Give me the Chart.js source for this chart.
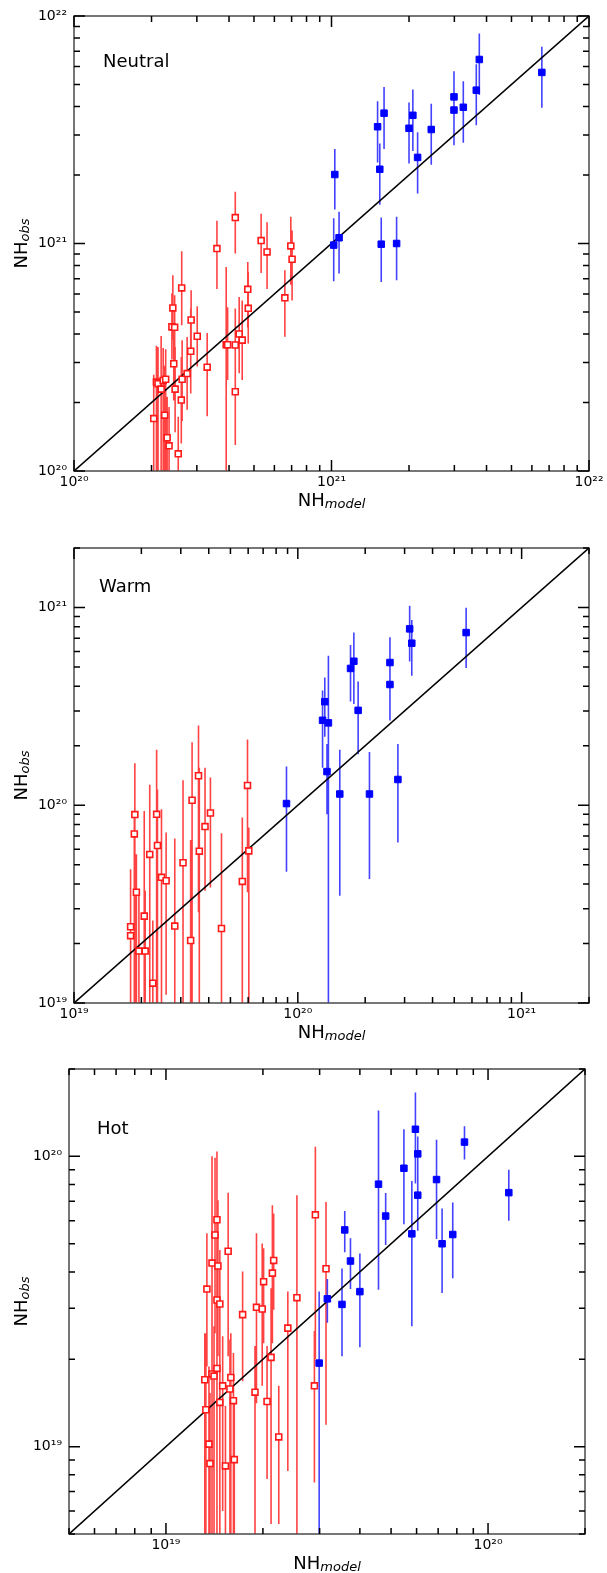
<!DOCTYPE html>
<html><head><meta charset="utf-8">
<script src="https://cdn.jsdelivr.net/npm/chart.js@4.4.0/dist/chart.umd.min.js"></script>
<style>
html,body{margin:0;padding:0;background:#fff;}
body{width:607px;height:1573px;position:relative;overflow:hidden;}
canvas{position:absolute;left:0;}
</style></head><body>
<canvas id="c1" width="607" height="520" style="top:0px"></canvas>
<canvas id="c2" width="607" height="520" style="top:520px"></canvas>
<canvas id="c3" width="607" height="533" style="top:1040px"></canvas>
<script>
// ---------------- Panel 1: Neutral ----------------
const neutralRange = [1e20, 1e22];
const neutralTicks = [1e20, 1e21, 1e22];
const neutralBlueX  = [1.03e21,1.02e21,1.07e21,1.51e21,1.54e21,1.60e21,1.56e21,1.79e21,2.00e21,2.07e21,2.16e21,2.44e21,2.99e21,2.99e21,3.25e21,3.65e21,3.75e21,6.56e21];
const neutralBlueY  = [2.01e21,9.84e20,1.06e21,3.26e21,2.12e21,3.74e21,9.93e20,1.00e21,3.21e21,3.66e21,2.39e21,3.17e21,4.41e21,3.86e21,3.97e21,4.72e21,6.44e21,5.65e21];
const neutralBlueLo = [1.41e21,6.83e20,7.38e20,2.27e21,1.48e21,2.60e21,6.78e20,6.90e20,2.25e21,2.55e21,1.66e21,2.22e21,3.37e21,2.70e21,2.77e21,3.31e21,4.50e21,3.95e21];
const neutralBlueHi = [2.60e21,1.29e21,1.38e21,4.22e21,2.75e21,4.87e21,1.30e21,1.31e21,4.17e21,4.75e21,3.08e21,4.11e21,5.72e21,5.05e21,5.16e21,6.14e21,8.38e21,7.32e21];
const neutralRedX  = [2.04e20,2.09e20,2.12e20,2.18e20,2.22e20,2.27e20,2.25e20,2.30e20,2.34e20,2.42e20,2.40e20,2.46e20,2.44e20,2.47e20,2.54e20,2.62e20,2.63e20,2.61e20,2.75e20,2.85e20,2.84e20,3.01e20,3.29e20,3.59e20,3.90e20,3.95e20,4.23e20,4.23e20,4.23e20,4.38e20,4.50e20,4.73e20,4.75e20,5.33e20,5.62e20,6.59e20,6.95e20,7.03e20];
const neutralRedY  = [1.70e20,2.46e20,2.42e20,2.29e20,2.50e20,2.53e20,1.76e20,1.40e20,1.29e20,5.21e20,4.30e20,4.28e20,2.96e20,2.29e20,1.19e20,6.38e20,2.53e20,2.05e20,2.68e20,4.61e20,3.36e20,3.91e20,2.86e20,9.50e20,3.59e20,3.59e20,1.30e21,3.58e20,2.23e20,4.00e20,3.76e20,6.29e20,5.19e20,1.03e21,9.18e20,5.77e20,9.76e20,8.53e20];
const neutralRedLo = [9e19,9e19,9e19,9e19,9e19,9e19,9e19,9e19,9e19,3.76e20,3.09e20,3.09e20,2.04e20,1.48e20,9e19,4.37e20,1.66e20,1.32e20,1.86e20,3.39e20,2.19e20,2.88e20,1.74e20,6.31e20,9e19,2.51e20,9.03e20,2.51e20,1.30e20,2.69e20,2.51e20,4.27e20,3.63e20,7.41e20,6.31e20,3.89e20,6.59e20,5.62e20];
const neutralRedHi = [2.65e20,3.55e20,3.51e20,3.92e20,3.47e20,3.43e20,2.90e20,2.12e20,1.91e20,7.25e20,6.03e20,5.92e20,4.30e20,3.51e20,1.73e20,9.25e20,3.76e20,3.17e20,3.88e20,6.23e20,5.18e20,5.30e20,4.04e20,1.26e21,7.89e20,5.25e20,1.69e21,5.18e20,3.23e20,5.82e20,5.62e20,8.30e20,7.50e20,1.35e21,1.24e21,7.62e20,1.31e21,1.14e21];

// ---------------- Panel 2: Warm ----------------
const warmRange = [1e19, 2e21];
const warmTicks = [1e19, 1e20, 1e21];
const warmBlueX  = [8.90e19,1.29e20,1.32e20,1.37e20,1.35e20,1.54e20,1.72e20,1.78e20,1.86e20,2.09e20,2.58e20,2.58e20,2.80e20,3.16e20,3.23e20,5.65e20];
const warmBlueY  = [1.02e20,2.69e20,3.34e20,2.61e20,1.48e20,1.14e20,4.92e20,5.35e20,3.02e20,1.14e20,5.27e20,4.08e20,1.35e20,7.80e20,6.60e20,7.47e20];
const warmBlueLo = [4.61e19,1.55e20,2.22e20,5e18,9.0e19,3.49e19,3.35e20,3.25e20,1.81e20,4.24e19,3.80e20,2.68e20,6.48e19,5.33e20,4.52e20,4.94e20];
const warmBlueHi = [1.57e20,3.81e20,4.43e20,5.70e20,2.04e20,1.91e20,6.47e20,7.47e20,4.23e20,1.86e20,7.08e20,5.30e20,2.04e20,1.02e21,8.65e20,9.98e20];
const warmRedX  = [1.79e19,1.79e19,1.87e19,1.86e19,1.90e19,1.95e19,2.06e19,2.08e19,2.18e19,2.25e19,2.34e19,2.36e19,2.46e19,2.58e19,2.82e19,3.07e19,3.32e19,3.37e19,3.60e19,3.63e19,3.85e19,4.07e19,4.56e19,5.65e19,5.96e19,6.04e19];
const warmRedY  = [2.43e19,2.19e19,8.97e19,7.16e19,3.63e19,1.83e19,2.75e19,1.83e19,5.64e19,1.26e19,9.00e19,6.26e19,4.32e19,4.15e19,2.45e19,5.12e19,2.07e19,1.06e20,1.41e20,5.86e19,7.80e19,9.14e19,2.38e19,4.12e19,1.26e20,5.88e19];
const warmRedLo = [8e18,8e18,8e18,8e18,8e18,8e18,8e18,8e18,8e18,8e18,8e18,8e18,8e18,1.1e19,8e18,8e18,8e18,8e18,2.88e19,8e18,3.70e19,3.84e19,8e18,8e18,3.63e19,8e18];
const warmRedHi = [4.75e19,3.84e19,1.63e20,8.83e19,5.66e19,3.70e19,9.35e19,3.70e19,1.27e20,2.61e19,1.91e20,1.20e20,9.54e19,7.28e19,6.79e19,1.34e20,6.68e19,2.08e20,2.53e20,1.55e20,1.55e20,1.38e20,7.22e19,8.66e19,2.15e20,7.71e19];

// ---------------- Panel 3: Hot ----------------
const hotRange = [5e18, 2e20];
const hotTicks = [1e19, 1e20];
const hotBlueX  = [2.99e19,3.17e19,3.52e19,3.59e19,3.74e19,4.00e19,4.57e19,4.81e19,5.48e19,5.80e19,5.95e19,6.05e19,6.05e19,6.92e19,7.20e19,7.77e19,8.45e19,1.16e20];
const hotBlueY  = [1.94e19,3.23e19,3.09e19,5.58e19,4.36e19,3.42e19,8.02e19,6.23e19,9.10e19,5.41e19,1.24e20,1.02e20,7.35e19,8.32e19,5.00e19,5.38e19,1.12e20,7.50e19];
const hotBlueLo = [4e18,2.67e19,2.05e19,4.67e19,3.49e19,2.20e19,3.47e19,4.95e19,5.84e19,2.60e19,8.06e19,7.08e19,5.54e19,5.19e19,3.38e19,3.80e19,9.75e19,6.00e19];
const hotBlueHi = [3.42e19,3.78e19,4.11e19,6.48e19,5.22e19,4.63e19,1.44e20,7.48e19,1.24e20,8.23e19,1.66e20,1.17e20,9.07e19,1.14e20,6.61e19,6.93e19,1.27e20,9.00e19];
const hotRedX  = [1.32e19,1.33e19,1.36e19,1.37e19,1.34e19,1.39e19,1.39e19,1.41e19,1.42e19,1.44e19,1.45e19,1.44e19,1.44e19,1.47e19,1.47e19,1.50e19,1.53e19,1.56e19,1.58e19,1.59e19,1.62e19,1.63e19,1.73e19,1.89e19,1.91e19,1.99e19,2.01e19,2.06e19,2.12e19,2.14e19,2.16e19,2.24e19,2.39e19,2.55e19,2.89e19,2.91e19,3.14e19];
const hotRedY  = [1.70e19,1.34e19,1.02e19,8.74e18,3.49e19,4.29e19,1.78e19,1.75e19,5.36e19,6.05e19,4.19e19,3.20e19,1.86e19,3.10e19,1.42e19,1.62e19,8.58e18,4.71e19,1.58e19,1.73e19,1.44e19,9.02e18,2.85e19,1.54e19,3.02e19,2.98e19,3.70e19,1.43e19,2.03e19,3.96e19,4.38e19,1.08e19,2.56e19,3.26e19,1.62e19,6.29e19,4.10e19];
const hotRedLo = [4e18,4e18,4e18,4e18,1.89e19,2.16e19,4e18,4e18,2.46e19,2.60e19,2.05e19,1.89e19,4e18,1.62e19,4e18,6e18,4e18,2.05e19,4e18,4e18,4e18,4e18,1.68e19,4e18,1.41e19,1.62e19,2.27e19,7.73e18,5.41e18,2.27e19,2.96e19,5.41e18,8.24e18,4.9e18,7.52e18,2.00e19,1.19e19];
const hotRedHi = [2.46e19,2.46e19,1.89e19,1.53e19,5.43e19,1.00e20,2.67e19,2.60e19,9.90e19,1.04e20,7.06e19,5.01e19,3.12e19,4.76e19,2.00e19,2.40e19,1.38e19,7.50e19,2.34e19,2.46e19,2.10e19,1.45e19,4.01e19,2.22e19,5.43e19,5.01e19,4.82e19,2.22e19,3.51e19,6.79e19,6.35e19,1.62e19,3.42e19,7.35e19,2.50e19,1.08e20,6.97e19];

// ---------------- helpers ----------------
const FONT = "'DejaVu Sans', sans-serif";
const SUP = {'0':'\u2070','1':'\u00B9','2':'\u00B2','3':'\u00B3','4':'\u2074','5':'\u2075','6':'\u2076','7':'\u2077','8':'\u2078','9':'\u2079','-':'\u207B'};
function powLabel(v){
  const e = Math.round(Math.log10(v));
  return '10' + String(e).split('').map(c => SUP[c]).join('');
}
function pts(xs, ys){ return xs.map((x,i)=>({x:x, y:ys[i]})); }
function bars(xs, lo, hi){
  const d = [];
  xs.forEach((x,i)=>{ d.push({x:x,y:lo[i]},{x:x,y:hi[i]},{x:x,y:null}); });
  return d;
}
function minorList(min, max){
  const out = [];
  let e = Math.floor(Math.log10(min)) - 1;
  const eMax = Math.ceil(Math.log10(max)) + 1;
  for (; e <= eMax; e++){
    for (let m = 1; m <= 9; m++){
      const v = m * Math.pow(10, e);
      if (v >= min*0.999 && v <= max*1.001) out.push({v:v, major: m===1});
    }
  }
  return out;
}

const framePlugin = {
  id: 'frame',
  afterDraw(chart){
    const o = chart.options.plugins.frame;
    const {ctx, chartArea:a} = chart;
    const xs = chart.scales.x, ys = chart.scales.y;
    ctx.save();
    // frame
    ctx.strokeStyle = '#4a4a4a'; ctx.lineWidth = 1.5;
    ctx.strokeRect(a.left, a.top, a.right - a.left, a.bottom - a.top);
    // inward tick marks on all four sides
    ctx.strokeStyle = '#000'; ctx.lineWidth = 1.5;
    ctx.beginPath();
    minorList(xs.min, xs.max).forEach(t => {
      const p = xs.getPixelForValue(t.v); const L = t.major ? 11 : 6;
      ctx.moveTo(p, a.bottom); ctx.lineTo(p, a.bottom - L);
      ctx.moveTo(p, a.top); ctx.lineTo(p, a.top + L);
    });
    minorList(ys.min, ys.max).forEach(t => {
      const p = ys.getPixelForValue(t.v); const L = t.major ? 11 : 6;
      ctx.moveTo(a.left, p); ctx.lineTo(a.left + L, p);
      ctx.moveTo(a.right, p); ctx.lineTo(a.right - L, p);
    });
    ctx.stroke();
    // panel label
    ctx.fillStyle = '#000';
    ctx.font = '18px ' + FONT;
    ctx.textAlign = 'left'; ctx.textBaseline = 'alphabetic';
    ctx.fillText(o.label, o.lx, o.ly);
    // x-axis title NH_model
    const big = '18px ' + FONT, small = 'italic 13px ' + FONT;
    ctx.font = big; const w1 = ctx.measureText('NH').width;
    ctx.font = small; const w2 = ctx.measureText('model').width;
    let x0 = (a.left + a.right)/2 - (w1 + w2)/2;
    const by = a.bottom + 35;
    ctx.font = big; ctx.fillText('NH', x0, by);
    ctx.font = small; ctx.fillText('model', x0 + w1, by + 2);
    // y-axis title NH_obs
    ctx.font = big; const v1 = ctx.measureText('NH').width;
    ctx.font = small; const v2 = ctx.measureText('obs').width;
    ctx.translate(27, (a.top + a.bottom)/2);
    ctx.rotate(-Math.PI/2);
    const y0 = -(v1 + v2)/2;
    ctx.font = big; ctx.fillText('NH', y0, 0);
    ctx.font = small; ctx.fillText('obs', y0 + v1, 2);
    ctx.restore();
  }
};

function makeChart(id, cfg){
  const red = 'rgb(255,25,25)', blue = 'rgb(0,0,255)';
  const logAxis = (range, ticks, fitKey, fitVal, pad) => ({
    type: 'logarithmic', min: range[0], max: range[1],
    afterBuildTicks: s => { s.ticks = ticks.map(v => ({value: v})); },
    afterFit: s => { s[fitKey] = fitVal; },
    grid: {display: false, drawTicks: false},
    border: {display: false},
    ticks: {callback: v => powLabel(v), autoSkip: false, maxRotation: 0, minRotation: 0,
            color: '#000', font: {family: FONT, size: 14}, padding: pad}
  });
  return new Chart(document.getElementById(id), {
    type: 'scatter',
    data: {datasets: [
      {label:'blue', data: pts(cfg.bx, cfg.by), pointStyle:'rect', pointRadius:4.6,
       backgroundColor: blue, borderColor: blue, borderWidth: 1, order: 0},
      {label:'red', data: pts(cfg.rx, cfg.ry), pointStyle:'rect', pointRadius:4.2,
       backgroundColor: '#fff', borderColor: red, borderWidth: 1.6, order: 1},
      {label:'one-to-one', data: [{x:cfg.range[0], y:cfg.range[0]}, {x:cfg.range[1], y:cfg.range[1]}],
       showLine: true, pointRadius: 0, borderColor: '#000', borderWidth: 1.6, order: 2},
      {label:'blue err', data: bars(cfg.bx, cfg.blo, cfg.bhi), showLine: true, spanGaps: false,
       pointRadius: 0, borderColor: 'rgba(20,20,255,0.8)', borderWidth: 1.6, order: 3},
      {label:'red err', data: bars(cfg.rx, cfg.rlo, cfg.rhi), showLine: true, spanGaps: false,
       pointRadius: 0, borderColor: 'rgba(255,20,20,0.8)', borderWidth: 1.6, order: 4}
    ]},
    options: {
      responsive: false, animation: false, devicePixelRatio: 1,
      layout: {padding: cfg.pad},
      plugins: {legend: {display: false}, tooltip: {enabled: false},
                frame: {label: cfg.label, lx: cfg.lx, ly: cfg.ly}},
      scales: {
        x: logAxis(cfg.range, cfg.ticks, 'height', cfg.xh, 3),
        y: logAxis(cfg.range, cfg.ticks, 'width', cfg.yw, 7)
      }
    },
    plugins: [framePlugin]
  });
}

makeChart('c1', {label:'Neutral', lx:103, ly:67, range: neutralRange, ticks: neutralTicks,
  bx: neutralBlueX, by: neutralBlueY, blo: neutralBlueLo, bhi: neutralBlueHi,
  rx: neutralRedX, ry: neutralRedY, rlo: neutralRedLo, rhi: neutralRedHi,
  pad: {top:16, right:18, left:0, bottom:0}, xh: 49, yw: 74});
makeChart('c2', {label:'Warm', lx:99, ly:72, range: warmRange, ticks: warmTicks,
  bx: warmBlueX, by: warmBlueY, blo: warmBlueLo, bhi: warmBlueHi,
  rx: warmRedX, ry: warmRedY, rlo: warmRedLo, rhi: warmRedHi,
  pad: {top:28, right:18, left:0, bottom:0}, xh: 37, yw: 74});
makeChart('c3', {label:'Hot', lx:97, ly:94, range: hotRange, ticks: hotTicks,
  bx: hotBlueX, by: hotBlueY, blo: hotBlueLo, bhi: hotBlueHi,
  rx: hotRedX, ry: hotRedY, rlo: hotRedLo, rhi: hotRedHi,
  pad: {top:29, right:22, left:0, bottom:0}, xh: 39, yw: 69});
</script>
</body></html>
